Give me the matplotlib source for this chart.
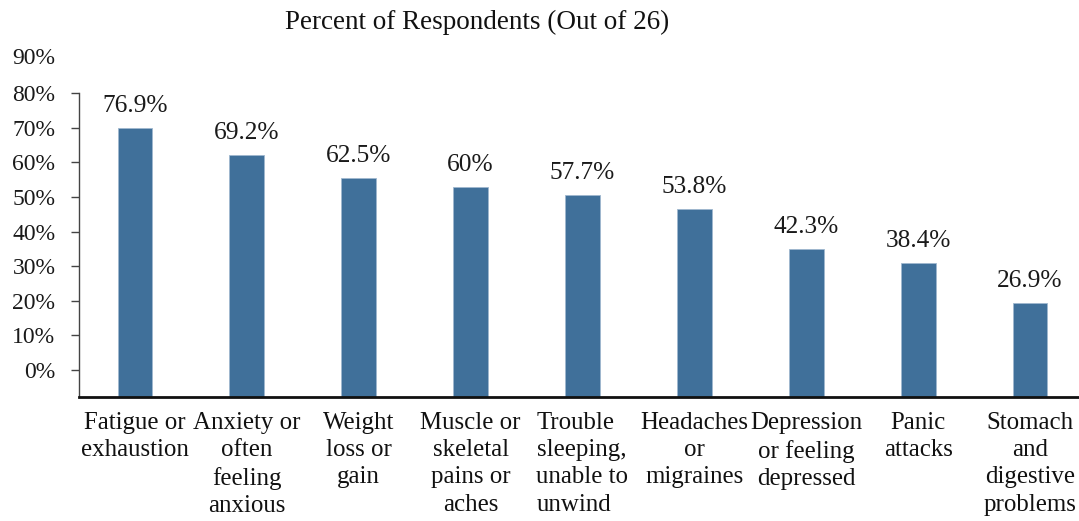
import matplotlib
matplotlib.use("Agg")
import matplotlib.pyplot as plt
from matplotlib.transforms import offset_copy

plt.rcParams['font.family'] = ['Liberation Serif', 'DejaVu Serif']

categories = [
    "Fatigue or\nexhaustion",
    "Anxiety or\noften\nfeeling\nanxious",
    "Weight\nloss or\ngain",
    "Muscle or\nskeletal\npains or\naches",
    "Trouble\nsleeping,\nunable to\nunwind",
    "Headaches\nor\nmigraines",
    "Depression\nor feeling\ndepressed",
    "Panic\nattacks",
    "Stomach\nand\ndigestive\nproblems",
]
values = [76.9, 69.2, 62.5, 60.0, 57.7, 53.8, 42.3, 38.4, 26.9]
value_labels = ["76.9%", "69.2%", "62.5%", "60%", "57.7%", "53.8%", "42.3%", "38.4%", "26.9%"]
tick_labels = ["0%", "10%", "20%", "30%", "40%", "50%", "60%", "70%", "80%", "90%"]
title = "Percent of Respondents (Out of 26)"

bar_color = "#40709A"

fig = plt.figure(figsize=(10.79, 5.21), dpi=100)
ax = fig.add_axes([79/1079, 1 - 397/521, (1086 - 79)/1079, (397 - 93)/521])

x = list(range(len(values)))
ax.bar(x, values, width=0.31, color=bar_color, edgecolor="#9FB8CF", linewidth=0.6, zorder=2)
ax.set_xlim(-0.5, len(values) - 0.5)
ax.set_ylim(0, 86.9)

# Value labels
for xi, v, lab in zip(x, values, value_labels):
    ax.annotate(lab, (xi, v), xytext=(0, 11.5), textcoords="offset points",
                ha="center", va="baseline", fontsize=18.3, color="#1a1a1a")

# Y ticks (misaligned as in the original chart)
offset, step = 7.7, 9.9
pos = [offset + step * k for k in range(len(tick_labels))]
ax.set_yticks(pos[:-1])
ax.set_yticklabels(tick_labels[:-1], fontsize=17, color="#1a1a1a")
ax.tick_params(axis="y", direction="out", length=6, width=1, color="#444444", pad=11)
ax.text(-0.5, pos[-1], tick_labels[-1],
        transform=offset_copy(ax.transData, fig=fig, x=-(6 + 11), y=0, units="points"),
        ha="right", va="center", fontsize=17, color="#1a1a1a", clip_on=False)

# X ticks
ax.set_xticks(x)
ax.set_xticklabels(categories, fontsize=17.9, color="#111111", linespacing=1.3)
for lbl in ax.get_xticklabels():
    if lbl.get_text().startswith("Trouble"):
        lbl.set_multialignment("left")
ax.tick_params(axis="x", length=0, pad=11)

for s in ["top", "right"]:
    ax.spines[s].set_visible(False)
ax.spines["left"].set_color("#444444")
ax.spines["left"].set_linewidth(1)
ax.spines["bottom"].set_color("#111111")
ax.spines["bottom"].set_linewidth(2)

fig.text(477/1079, 1 - 22/521, title, ha="center", va="center", fontsize=19.5, color="#111111")

fig.savefig("out.png", dpi=100)
